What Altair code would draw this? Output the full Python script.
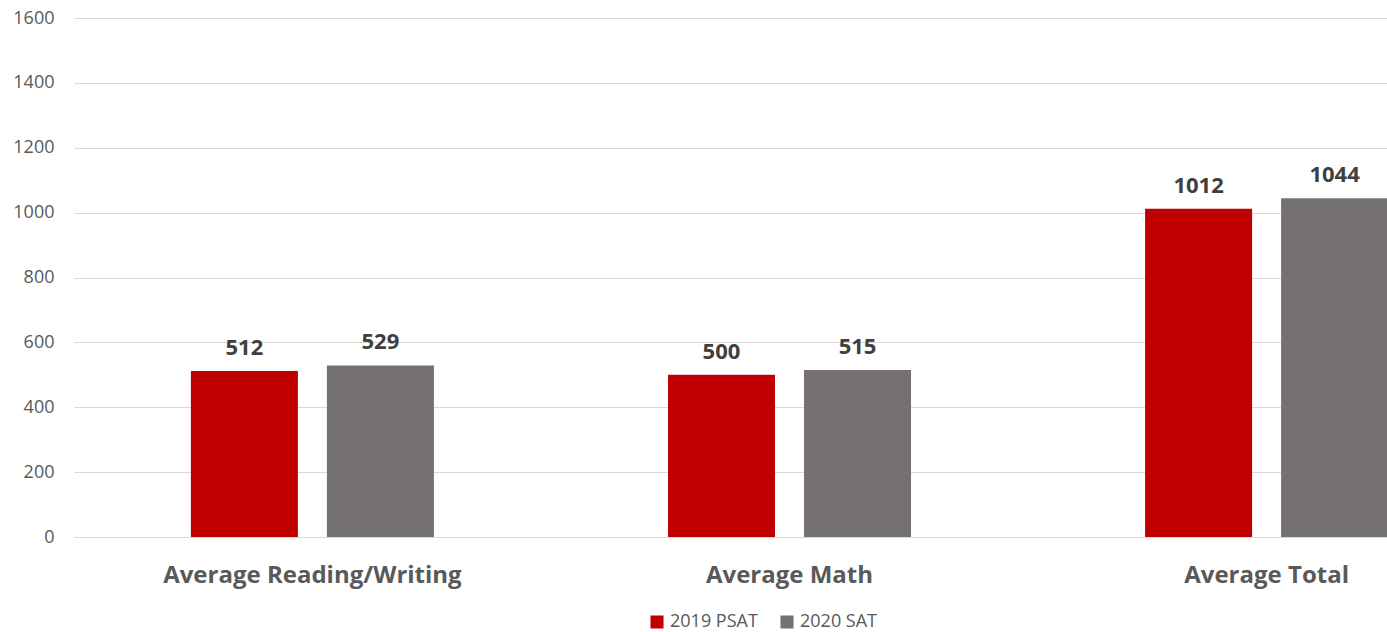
import altair as alt
import pandas as pd

categories = ["Average Reading/Writing", "Average Math", "Average Total"]
series = ["2019 PSAT", "2020 SAT"]
psat_2019 = [512, 500, 1012]
sat_2020 = [529, 515, 1044]
colors = ["#C00000", "#767171"]

rows = []
for i, c in enumerate(categories):
    rows.append({"cat": c, "series": series[0], "value": psat_2019[i]})
    rows.append({"cat": c, "series": series[1], "value": sat_2020[i]})
df = pd.DataFrame(rows)

FONT = "Open Sans"

x = alt.X("cat:N", sort=categories, title=None,
          scale=alt.Scale(range=[0, 1431], paddingInner=0.4906, paddingOuter=0.245),
          axis=alt.Axis(labelAngle=0, labelFontSize=24, labelFontWeight="bold",
                        labelColor="#595959", labelFont=FONT, labelPadding=26,
                        ticks=False, domain=False, labelLimit=400))
xo = alt.XOffset("series:N", sort=series,
                 scale=alt.Scale(paddingInner=29 / 136, paddingOuter=0))
y = alt.Y("value:Q", title=None,
          scale=alt.Scale(domain=[0, 1600], nice=False),
          axis=alt.Axis(values=list(range(0, 1601, 200)), format="d", labelFontSize=18,
                        labelColor="#595959", labelFont=FONT, labelPadding=20,
                        ticks=False, domain=False, gridColor="#d9d9d9",
                        gridWidth=1))

bars = alt.Chart(df).mark_bar().encode(
    x=x, xOffset=xo, y=y,
    color=alt.Color("series:N", sort=series,
                    scale=alt.Scale(domain=series, range=colors),
                    legend=alt.Legend(title=None, orient="none", direction="horizontal",
                                      legendX=574, legendY=595,
                                      symbolType="square", symbolSize=170,
                                      symbolStrokeWidth=0,
                                      labelFontSize=18, labelColor="#595959",
                                      labelFont=FONT, columnPadding=20,
                                      labelOffset=4)),
)

labels = alt.Chart(df).mark_text(
    fontSize=22, fontWeight="bold", color="#404040", font=FONT,
    baseline="alphabetic", dy=-16,
).encode(x=x, xOffset=xo, y=y, text=alt.Text("value:Q"))

chart = alt.layer(bars, labels).properties(
    width=1312, height=519,
    autosize=alt.AutoSizeParams(type="none"),
    padding={"left": 74, "top": 18, "right": 1, "bottom": 95},
    background="white",
).configure_view(stroke=None, strokeWidth=0)

chart.save("out.html", embed_options={"renderer": "svg", "actions": False})
